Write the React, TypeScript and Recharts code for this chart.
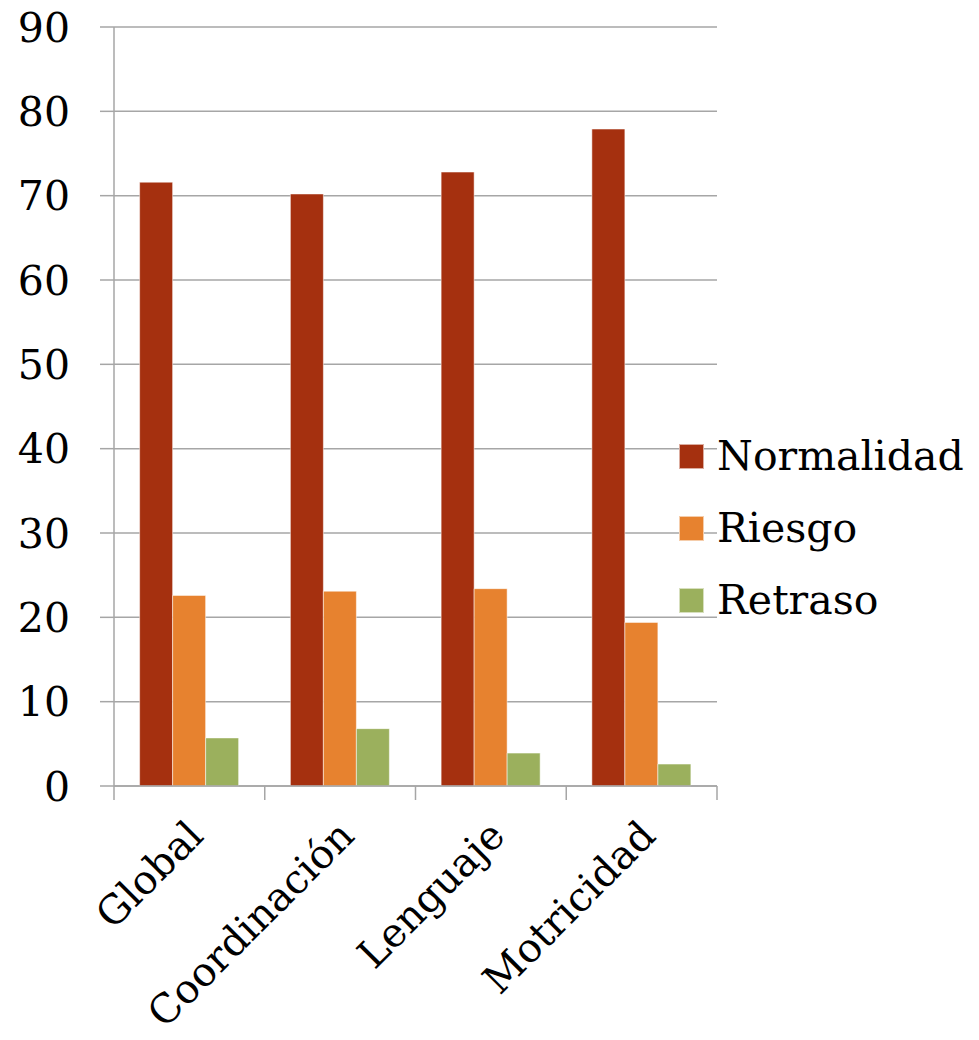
import { BarChart, Bar, XAxis, YAxis, CartesianGrid, Legend } from 'recharts'

// ─── Data ─────────────────────────────────────────────────────────────────────

const categories = ['Global', 'Coordinación', 'Lenguaje', 'Motricidad']
const normalidad = [71.6, 70.2, 72.8, 77.9]
const riesgo = [22.6, 23.1, 23.4, 19.4]
const retraso = [5.7, 6.8, 3.9, 2.6]
const yTicks = [0, 10, 20, 30, 40, 50, 60, 70, 80, 90]

const series = [
  { key: 'Normalidad', values: normalidad, color: '#A5300F' },
  { key: 'Riesgo', values: riesgo, color: '#E7822F' },
  { key: 'Retraso', values: retraso, color: '#9BB05D' },
]

const chartData = categories.map((name, i) => {
  const row: Record<string, string | number> = { name }
  series.forEach((s) => {
    row[s.key] = s.values[i]
  })
  return row
})

// ─── Layout ───────────────────────────────────────────────────────────────────

const W = 979
const H = 1040
const MARGIN = { top: 27, right: 262, bottom: 0, left: 0 }
const Y_AXIS_W = 114
const X_AXIS_H = 254
const FONT = '"DejaVu Serif", serif'
const GREY = '#A6A6A6'
const BAND = (W - MARGIN.left - MARGIN.right - Y_AXIS_W) / categories.length

function CategoryTick(props: any) {
  const { x, y, payload, index } = props
  const left = x - BAND / 2
  const right = x + BAND / 2
  const tx = x + 16
  const ty = y + 52
  return (
    <g>
      <line x1={left} y1={y} x2={left} y2={y + 14} stroke={GREY} strokeWidth={1.5} />
      {index === categories.length - 1 && (
        <line x1={right} y1={y} x2={right} y2={y + 14} stroke={GREY} strokeWidth={1.5} />
      )}
      <text
        x={tx}
        y={ty}
        transform={`rotate(-45, ${tx}, ${ty})`}
        textAnchor="end"
        fontFamily={FONT}
        fontSize={40}
        fill="#000"
      >
        {payload.value}
      </text>
    </g>
  )
}

function LegendContent(props: any) {
  const { payload } = props
  // keep the series order, not the alphabetical one
  const items = series
    .map((s) => payload.find((p: any) => p.dataKey === s.key))
    .filter(Boolean)
  return (
    <div style={{ fontFamily: FONT, fontSize: 41, color: '#000' }}>
      {items.map((entry: any) => (
        <div
          key={entry.value}
          style={{ display: 'flex', alignItems: 'center', height: 72, whiteSpace: 'nowrap' }}
        >
          <span
            style={{
              display: 'inline-block',
              width: 25,
              height: 25,
              backgroundColor: entry.color,
              border: '1px solid rgba(255,255,255,0.6)',
              boxSizing: 'border-box',
              marginRight: 13,
            }}
          />
          <span>{entry.value}</span>
        </div>
      ))}
    </div>
  )
}

// ─── Component ────────────────────────────────────────────────────────────────

export default function App() {
  return (
    <div style={{ position: 'absolute', left: 0, top: 0, width: W, height: H, background: '#fff' }}>
      <BarChart
        width={W}
        height={H}
        data={chartData}
        margin={MARGIN}
        barCategoryGap="17%"
        barGap={0}
      >
        <CartesianGrid vertical={false} stroke={GREY} strokeWidth={1.5} />
        <XAxis
          dataKey="name"
          height={X_AXIS_H}
          interval={0}
          tickLine={false}
          tickSize={0}
          tickMargin={0}
          axisLine={{ stroke: GREY, strokeWidth: 1.5 }}
          tick={<CategoryTick />}
        />
        <YAxis
          width={Y_AXIS_W}
          domain={[0, 90]}
          ticks={yTicks}
          interval={0}
          tickSize={14}
          tickMargin={30}
          axisLine={{ stroke: GREY, strokeWidth: 1.5 }}
          tickLine={{ stroke: GREY, strokeWidth: 1.5 }}
          tick={{ fontFamily: FONT, fontSize: 41, fill: '#000' }}
        />
        <Legend
          layout="vertical"
          align="center"
          verticalAlign="middle"
          content={<LegendContent />}
          wrapperStyle={{ left: 679, top: 420, width: 300 }}
        />
        {series.map((s) => (
          <Bar
            key={s.key}
            dataKey={s.key}
            fill={s.color}
            stroke="rgba(255,255,255,0.5)"
            strokeWidth={1}
            isAnimationActive={false}
          />
        ))}
      </BarChart>
    </div>
  )
}
